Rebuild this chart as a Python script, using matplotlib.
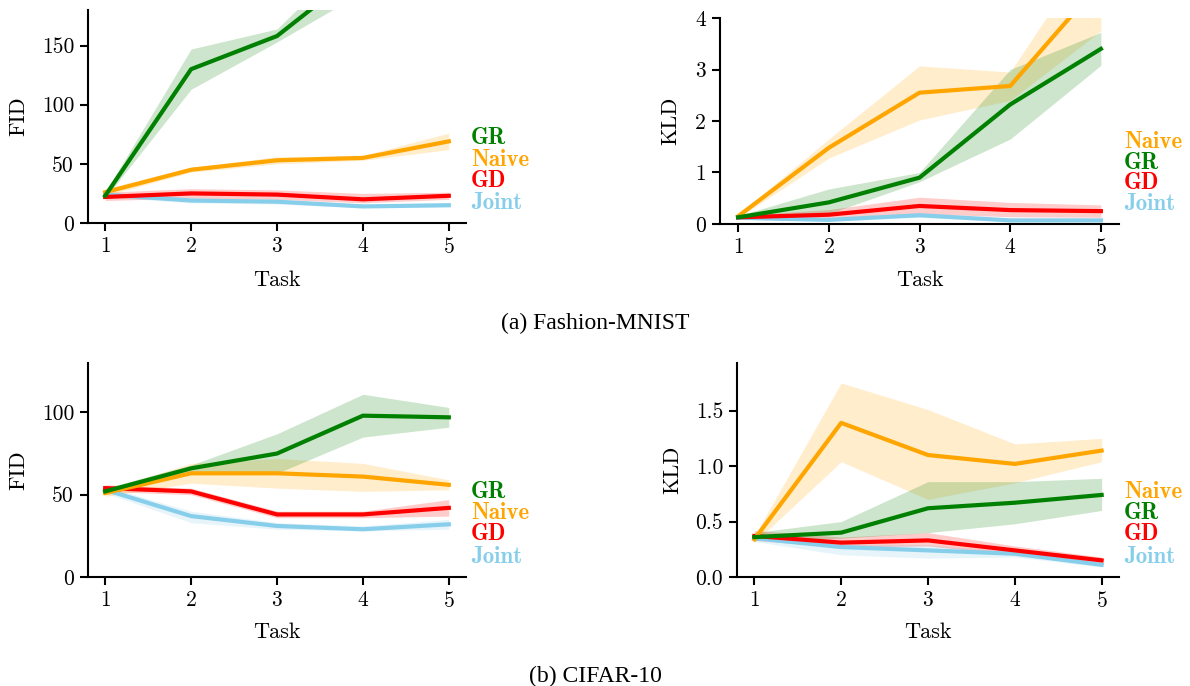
import matplotlib
matplotlib.use("Agg")
import matplotlib.pyplot as plt
import numpy as np

tasks = [1, 2, 3, 4, 5]
methods = ["Joint", "GD", "Naive", "GR"]
colors = {"GR": "green", "Naive": "orange", "GD": "red", "Joint": "skyblue"}

# (a) Fashion-MNIST FID
fm_fid = {
    "GR": [23, 130, 158, 215, 262],
    "Naive": [26, 45, 53, 55, 69],
    "GD": [22, 25, 24, 20, 23],
    "Joint": [24, 19, 18, 14, 15],
}
fm_fid_lo = {
    "GR": [21, 113, 153, 195, 240],
    "Naive": [23, 43, 50, 53, 62],
    "GD": [19, 21, 20, 17, 20],
    "Joint": [22, 17, 16, 13, 14],
}
fm_fid_hi = {
    "GR": [26, 147, 164, 235, 285],
    "Naive": [29, 47, 56, 57, 76],
    "GD": [26, 29, 28, 25, 26],
    "Joint": [26, 21, 20, 16, 17],
}

# (a) Fashion-MNIST KLD
fm_kld = {
    "Naive": [0.15, 1.48, 2.55, 2.68, 4.70],
    "GR": [0.13, 0.42, 0.90, 2.32, 3.40],
    "GD": [0.13, 0.18, 0.35, 0.27, 0.25],
    "Joint": [0.12, 0.08, 0.17, 0.07, 0.07],
}
fm_kld_lo = {
    "Naive": [0.12, 1.28, 2.02, 2.40, 3.75],
    "GR": [0.10, 0.20, 0.82, 1.65, 3.08],
    "GD": [0.09, 0.08, 0.20, 0.14, 0.13],
    "Joint": [0.10, 0.06, 0.13, 0.05, 0.05],
}
fm_kld_hi = {
    "Naive": [0.18, 1.65, 3.07, 2.95, 5.60],
    "GR": [0.16, 0.68, 1.00, 3.00, 3.72],
    "GD": [0.17, 0.28, 0.52, 0.42, 0.37],
    "Joint": [0.14, 0.10, 0.21, 0.09, 0.09],
}

# (b) CIFAR-10 FID
cf_fid = {
    "GR": [52, 66, 75, 98, 97],
    "Naive": [51, 63, 63, 61, 56],
    "GD": [54, 52, 38, 38, 42],
    "Joint": [53, 37, 31, 29, 32],
}
cf_fid_lo = {
    "GR": [50, 64, 63, 85, 91],
    "Naive": [49, 57, 54, 52, 53],
    "GD": [52, 50, 36, 36, 37],
    "Joint": [51, 33, 29, 28, 29],
}
cf_fid_hi = {
    "GR": [54, 68, 87, 111, 103],
    "Naive": [53, 69, 72, 69, 59],
    "GD": [56, 54, 40, 40, 47],
    "Joint": [55, 40, 33, 31, 35],
}

# (b) CIFAR-10 KLD
cf_kld = {
    "Naive": [0.34, 1.39, 1.10, 1.02, 1.14],
    "GR": [0.36, 0.40, 0.62, 0.67, 0.74],
    "GD": [0.37, 0.31, 0.33, 0.24, 0.15],
    "Joint": [0.35, 0.27, 0.24, 0.21, 0.11],
}
cf_kld_lo = {
    "Naive": [0.31, 1.04, 0.70, 0.85, 1.04],
    "GR": [0.33, 0.35, 0.40, 0.48, 0.60],
    "GD": [0.33, 0.27, 0.28, 0.20, 0.12],
    "Joint": [0.32, 0.20, 0.17, 0.18, 0.09],
}
cf_kld_hi = {
    "Naive": [0.37, 1.75, 1.51, 1.20, 1.25],
    "GR": [0.40, 0.50, 0.86, 0.86, 0.89],
    "GD": [0.42, 0.36, 0.40, 0.28, 0.18],
    "Joint": [0.38, 0.30, 0.29, 0.23, 0.13],
}

plt.rcParams["font.family"] = ["cmr10", "DejaVu Serif"]
plt.rcParams["axes.formatter.use_mathtext"] = True
plt.rcParams["font.size"] = 15.5

W, H = 1190, 686
fig = plt.figure(figsize=(W / 100, H / 100), dpi=100)


def add_ax(l, r, t, b):
    return fig.add_axes([l / W, 1 - b / H, (r - l) / W, (b - t) / H])


panels = [
    (add_ax(88, 466, 10, 223), fm_fid, fm_fid_lo, fm_fid_hi, "FID", (0, 180), [0, 50, 100, 150],
     ["GR", "Naive", "GD", "Joint"], -0.185, 0.268, "%d"),
    (add_ax(720, 1119, 18, 224), fm_kld, fm_kld_lo, fm_kld_hi, "KLD", (0, 4), [0, 1, 2, 3, 4],
     ["Naive", "GR", "GD", "Joint"], -0.125, 0.272, "%d"),
    (add_ax(88, 466, 363, 577), cf_fid, cf_fid_lo, cf_fid_hi, "FID", (0, 130), [0, 50, 100],
     ["GR", "Naive", "GD", "Joint"], -0.185, 0.257, "%d"),
    (add_ax(737, 1119, 363, 577), cf_kld, cf_kld_lo, cf_kld_hi, "KLD", (0, 1.93), [0.0, 0.5, 1.0, 1.5],
     ["Naive", "GR", "GD", "Joint"], -0.17, 0.257, "%.1f"),
]

legend_y = [0.398, 0.298, 0.199, 0.095]

for ax, mean, lo, hi, ylab, ylim, yticks, order, ylx, xly, fmt in panels:
    for m in methods:
        ax.fill_between(tasks, lo[m], hi[m], color=colors[m], alpha=0.2, lw=0)
    for m in methods:
        ax.plot(tasks, mean[m], color=colors[m], lw=3)
    ax.set_xlim(0.8, 5.2)
    ax.set_ylim(*ylim)
    ax.set_xticks(tasks)
    ax.set_yticks(yticks)
    ax.set_yticklabels([fmt % v for v in yticks])
    ax.spines["top"].set_visible(False)
    ax.spines["right"].set_visible(False)
    for s in ("left", "bottom"):
        ax.spines[s].set_linewidth(1.5)
    ax.tick_params(width=1.5, length=6, labelsize=15.5, pad=4)
    ax.set_xlabel("Task", fontsize=16)
    ax.set_ylabel(ylab, fontsize=16)
    ax.xaxis.set_label_coords(0.5, -xly)
    ax.xaxis.label.set_va("center")
    ax.yaxis.set_label_coords(ylx, 0.5)
    ax.yaxis.label.set_va("center")
    for name, yy in zip(order, legend_y):
        ax.text(1.013, yy, name, transform=ax.transAxes, color=colors[name],
                fontsize=16.5, family=["cmb10", "DejaVu Serif"], ha="left", va="center")

fig.text(595 / W, 1 - 323 / H, "(a) Fashion-MNIST", family="Liberation Serif",
         fontsize=17, ha="center", va="center")
fig.text(595 / W, 1 - 676 / H, "(b) CIFAR-10", family="Liberation Serif",
         fontsize=17, ha="center", va="center")

fig.savefig("out.png", dpi=100)
